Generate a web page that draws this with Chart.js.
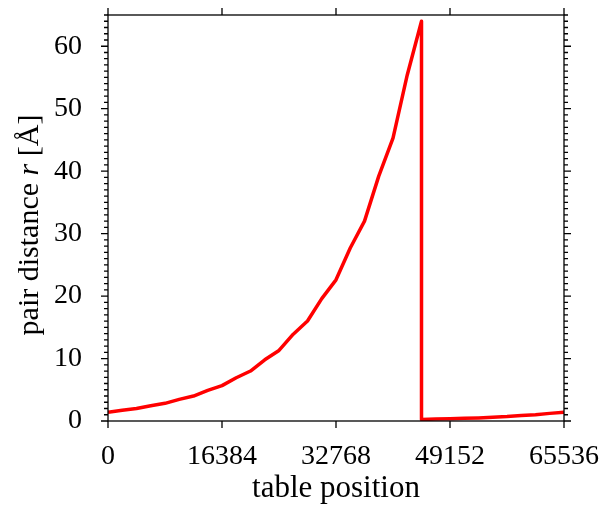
<!DOCTYPE html>
<html>
<head>
<meta charset="utf-8">
<script src="https://cdn.jsdelivr.net/npm/chart.js@4.4.1/dist/chart.umd.min.js"></script>
<style>
  html, body { margin: 0; padding: 0; background: #fff; }
  #wrap { width: 605px; height: 507px; }
</style>
</head>
<body>
<div id="wrap"><canvas id="chart" width="605" height="507"></canvas></div>
<script>
// table position (x) and pair distance r in Angstrom (y)
const positions = [
  0, 2048, 4096, 6144, 8192, 10240, 12288, 14336, 16384, 18432, 20480,
  22528, 24576, 26624, 28672, 30720, 32768, 34816, 36864, 38912, 40960,
  43008, 45056, 45056, 47104, 49152, 51200, 53248, 55296, 57344, 59392,
  61440, 63488, 65536
];
const distances = [
  1.41, 1.73, 2.0, 2.45, 2.83, 3.46, 4.0, 4.9, 5.66, 6.93, 8.0,
  9.8, 11.3, 13.9, 16.0, 19.6, 22.6, 27.7, 32.0, 39.2, 45.3,
  55.4, 64.0, 0.25, 0.31, 0.35, 0.43, 0.5, 0.61, 0.71, 0.87,
  1.0, 1.22, 1.41
];
const xTickValues = [0, 16384, 32768, 49152, 65536];
const yTickValues = [0, 10, 20, 30, 40, 50, 60];
const xTitle = "table position";
const yTitleParts = ["pair distance ", "r", " [Å]"];

const FONT = '"Liberation Serif", "Times New Roman", serif';
const FONT_SIZE = 28;
const TITLE_SIZE = 31;

// frame, outward ticks on all four sides and the axis titles
const frameAndTicks = {
  id: "frameAndTicks",
  afterDraw(chart) {
    const { ctx, chartArea: a, scales: { x, y } } = chart;
    ctx.save();
    ctx.strokeStyle = "#000";
    ctx.lineWidth = 1.3;
    ctx.strokeRect(a.left, a.top, a.right - a.left, a.bottom - a.top);

    ctx.beginPath();
    xTickValues.forEach(v => {
      const px = x.getPixelForValue(v);
      ctx.moveTo(px, a.bottom); ctx.lineTo(px, a.bottom + 7);
      ctx.moveTo(px, a.top); ctx.lineTo(px, a.top - 7);
    });
    for (let v = 0; v <= 65; v++) {
      const py = y.getPixelForValue(v);
      const len = v % 10 === 0 ? 7 : 4;
      ctx.moveTo(a.left, py); ctx.lineTo(a.left - len, py);
      ctx.moveTo(a.right, py); ctx.lineTo(a.right + len, py);
    }
    ctx.stroke();

    ctx.fillStyle = "#000";
    ctx.font = TITLE_SIZE + "px " + FONT;
    ctx.textAlign = "center";
    ctx.textBaseline = "alphabetic";
    ctx.fillText(xTitle, (a.left + a.right) / 2, 497);

    // y title, with an italic r
    const ySize = TITLE_SIZE - 1;
    const fonts = [
      ySize + "px " + FONT,
      "italic " + ySize + "px " + FONT,
      ySize + "px " + FONT
    ];
    const widths = yTitleParts.map((t, i) => { ctx.font = fonts[i]; return ctx.measureText(t).width; });
    const total = widths.reduce((s, w) => s + w, 0);
    ctx.translate(38, 225);
    ctx.rotate(-Math.PI / 2);
    ctx.textAlign = "left";
    let cx = -total / 2;
    yTitleParts.forEach((t, i) => {
      ctx.font = fonts[i];
      ctx.fillText(t, cx, 0);
      cx += widths[i];
    });
    ctx.restore();
  }
};

new Chart(document.getElementById("chart"), {
  type: "line",
  data: {
    datasets: [{
      data: positions.map((p, i) => ({ x: p, y: distances[i] })),
      borderColor: "#ff0000",
      borderWidth: 3.5,
      pointRadius: 0,
      tension: 0,
      fill: false,
      borderJoinStyle: "round"
    }]
  },
  options: {
    responsive: false,
    animation: false,
    layout: { padding: { top: 15, right: 41, left: 0, bottom: 0 } },
    plugins: { legend: { display: false }, tooltip: { enabled: false } },
    scales: {
      x: {
        type: "linear",
        min: 0,
        max: 65536,
        afterBuildTicks: scale => { scale.ticks = xTickValues.map(v => ({ value: v })); },
        afterFit: scale => {
          scale.height = 86;
          scale.paddingLeft = 0;
          scale.paddingRight = 0;
        },
        grid: { display: false, drawTicks: false, tickLength: 0 },
        border: { display: false },
        ticks: {
          color: "#000",
          font: { family: FONT, size: FONT_SIZE },
          padding: 19,
          maxRotation: 0,
          autoSkip: false,
          callback: v => String(v)
        }
      },
      y: {
        type: "linear",
        min: 0,
        max: 65,
        afterBuildTicks: scale => { scale.ticks = yTickValues.map(v => ({ value: v })); },
        afterFit: scale => {
          scale.width = 108;
          scale.paddingTop = 0;
          scale.paddingBottom = 0;
        },
        grid: { display: false, drawTicks: false, tickLength: 0 },
        border: { display: false },
        ticks: {
          color: "#000",
          font: { family: FONT, size: FONT_SIZE },
          padding: 26,
          autoSkip: false,
          callback: v => String(v)
        }
      }
    }
  },
  plugins: [frameAndTicks]
});
</script>
</body>
</html>
